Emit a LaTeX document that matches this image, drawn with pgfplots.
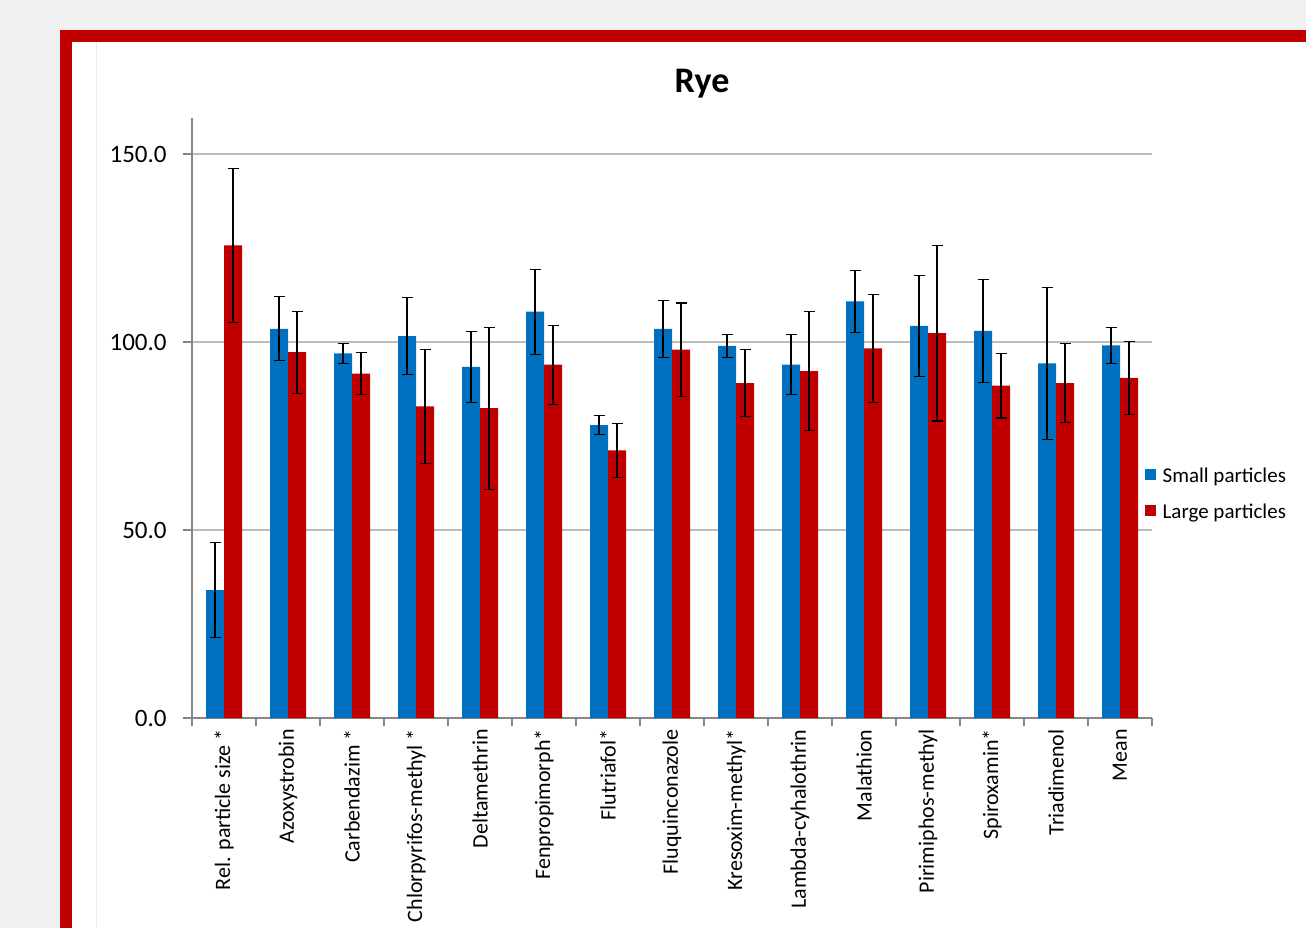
\documentclass[border=0pt]{standalone}
\usepackage{fontspec}
\setmainfont{Carlito}
\usepackage{pgfplots}
\usepackage{pgfplotstable}
\pgfplotsset{compat=1.18}

\definecolor{pagebg}{RGB}{239,240,240}
\definecolor{framered}{RGB}{192,0,0}
\definecolor{sblue}{RGB}{0,112,192}
\definecolor{lred}{RGB}{192,0,0}
\definecolor{axisgray}{RGB}{134,134,134}
\definecolor{gridgray}{RGB}{190,190,190}

% recovery (%) per compound: small particles, large particles, with standard deviations
\pgfplotstableread{
x  small  serr  large  lerr
0  34.0   12.7  125.7  20.4
1  103.5  8.5   97.3   10.9
2  97.0   2.6   91.6   5.6
3  101.6  10.2  82.9   15.1
4  93.4   9.5   82.4   21.5
5  108.1  11.3  94.0   10.5
6  77.9   2.5   71.2   7.2
7  103.5  7.6   98.0   12.4
8  99.0   3.1   89.1   8.9
9  94.0   8.0   92.3   15.8
10 110.8  8.3   98.3   14.4
11 104.3  13.5  102.4  23.4
12 103.0  13.7  88.4   8.6
13 94.3   20.1  89.1   10.6
14 99.1   4.8   90.5   9.7
}\ryedata

\begin{document}
\begin{tikzpicture}
% page background and slide frame
\fill[pagebg] (0pt,0pt) rectangle (653pt,464pt);
\fill[framered] (30pt,0pt) rectangle (653pt,449pt);
\fill[white] (36pt,0pt) rectangle (653pt,443pt);
\draw[black!8, line width=0.5pt] (48pt,0pt) -- (48pt,443pt);
\useasboundingbox (0pt,0pt) rectangle (653pt,464pt);

\node[font=\fontsize{18}{21}\selectfont\bfseries] at (351pt,422pt) {Rye};

\begin{axis}[
  at={(96pt,105pt)}, anchor=south west, scale only axis,
  width=480pt, height=300pt,
  xmin=-0.5, xmax=14.5, ymin=0, ymax=159.6,
  ybar=0pt, bar width=9pt,
  axis x line*=bottom, axis y line*=left,
  axis line style={draw=axisgray, line width=0.6pt, -},
  tick align=outside,
  xtick={0,...,14},
  xticklabels={Rel. particle size *, Azoxystrobin, Carbendazim *, Chlorpyrifos-methyl *, Deltamethrin, Fenpropimorph*, Flutriafol*, Fluquinconazole, Kresoxim-methyl*, Lambda-cyhalothrin, Malathion, Pirimiphos-methyl, Spiroxamin*, Triadimenol, Mean},
  major x tick style={draw=none},
  minor xtick={-0.5,0.5,...,14.5},
  minor tick length=4pt,
  minor x tick style={draw=axisgray, line width=0.6pt},
  xticklabel style={rotate=90, anchor=east, inner sep=0pt,
    font=\fontsize{11}{13}\selectfont},
  xticklabel shift=1pt,
  ytick={0,50,100,150},
  major tick length=4.5pt,
  y tick style={draw=axisgray, line width=0.6pt},
  yticklabel style={font=\fontsize{12.5}{15}\selectfont, inner sep=0pt, xshift=-8pt,
    /pgf/number format/.cd, fixed, fixed zerofill, precision=1, assume math mode=true},
  ymajorgrids, grid style={draw=gridgray, line width=0.75pt},
  error bars/error bar style={black, line width=0.55pt},
  error bars/error mark options={black, mark size=2.75pt, line width=0.55pt, rotate=90},
  legend style={at={(rel axis cs:0.994,0.43)}, anchor=north west, xshift=-4pt, yshift=-1.5pt,
    draw=none, fill=none,
    font=\fontsize{10.5}{12}\selectfont, row sep=8pt,
    nodes={inner sep=0pt, text height=7.5pt, text depth=2.5pt}},
  legend cell align=left,
  legend image code/.code={\draw[#1,draw=none] (0pt,-1.3pt) rectangle (5.5pt,4.4pt);},
]
\addplot[fill=sblue, draw=none, error bars/.cd, y dir=both, y explicit]
  table[x=x, y=small, y error=serr] {\ryedata};
\addlegendentry{\hspace{3.5pt}Small particles}
\addplot[fill=lred, draw=none, error bars/.cd, y dir=both, y explicit]
  table[x=x, y=large, y error=lerr] {\ryedata};
\addlegendentry{\hspace{3.5pt}Large particles}
\end{axis}
\end{tikzpicture}
\end{document}
